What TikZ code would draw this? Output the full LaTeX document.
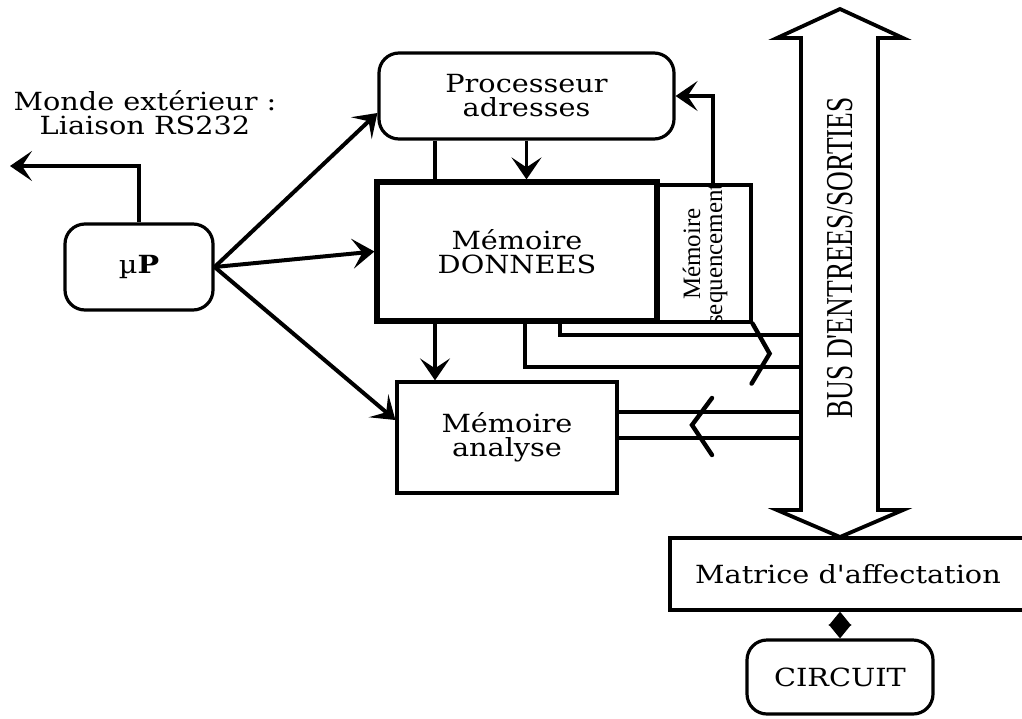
\documentclass[tikz,border=0pt]{standalone}
\usepackage{fontspec}
\usetikzlibrary{arrows.meta}
\newfontfamily\boxfont{DejaVu Serif}[FakeStretch=1.15]
\newfontfamily\busfont{Liberation Serif}[FakeStretch=0.72]
\newfontfamily\seqfont{Liberation Serif}
\tikzset{
  blk/.style={draw, line width=1.6pt, inner sep=0pt, align=center,
    font={\boxfont\fontsize{12.5}{12}\selectfont}},
  rblk/.style={blk, rounded corners=10pt},
  conn/.style={line width=1.6pt, -{Stealth[length=11pt,width=15pt,inset=5pt]}},
  link/.style={line width=1.6pt},
  chev/.style={line width=2.2pt, line cap=round},
}

\begin{document}
\begin{tikzpicture}[x=0.5pt, y=-0.5pt]
  \useasboundingbox (0,0) rectangle (1022,718);
  % blocs
  \node[rblk, minimum width=147.5pt, minimum height=43pt] (proc) at (526.5,96) {Processeur\\adresses};
  \node[blk, line width=2.6pt, minimum width=140pt, minimum height=69.5pt] (donnees) at (517,251.5) {Mémoire\\DONNEES};
  \node[blk, minimum width=47pt, minimum height=68.5pt] (seq) at (704,253.5) {};
  \node[rotate=90, align=center, font={\seqfont\fontsize{12.5}{11}\selectfont}] (seqtxt) at (705,254) {Mémoire\\sequencement};
  \node[blk, minimum width=110pt, minimum height=55.5pt] (analyse) at (507,437.5) {Mémoire\\analyse};
  \node[rblk, minimum width=74pt, minimum height=43pt] (up) at (139,267) {µ\textbf{P}};
  \node[blk, minimum width=178pt, minimum height=36pt] (matrice) at (848,574) {Matrice d'affectation};
  \node[rblk, minimum width=93pt, minimum height=37pt] (circuit) at (840,677) {CIRCUIT};
  \node[align=center, font={\boxfont\fontsize{12.5}{12}\selectfont}] (monde) at (145,113) {Monde extérieur :\\Liaison RS232};
  % bus
  \draw[line width=1.9pt] (840,9) -- (903,38) -- (878,38) -- (878,510) -- (903,510)
    -- (840,537) -- (777,510) -- (801,510) -- (801,38) -- (777,38) -- cycle;
  \node[rotate=90, font={\busfont\fontsize{19}{19}\selectfont}] (bus) at (840,258) {BUS D'ENTREES/SORTIES};
  \coordinate (rs) at (10,166);
  \coordinate (colA) at (435,0);
  \coordinate (colC) at (713,0);
  \coordinate (colD) at (560,0);
  \coordinate (colE) at (525,0);
  \coordinate (b1) at (801,335);
  \coordinate (b2) at (801,367);
  \coordinate (b3) at (801,412);
  \coordinate (b4) at (801,438);
  % liaisons
  \draw[conn] (up.north) |- (rs);
  \draw[conn, line width=2pt] (up.east) -- ([yshift=-8.5pt]proc.west);
  \draw[conn, line width=2pt] (up.east) -- (donnees.west);
  \draw[conn, line width=2pt] (up.east) -- ([yshift=8.75pt]analyse.west);
  \draw[link] (proc.south -| colA) -- (donnees.north -| colA);
  \draw[conn] (proc.south) -- (proc.south |- donnees.north);
  \draw[conn] (donnees.south -| colA) -- (analyse.north -| colA);
  \draw[conn] (seq.north -| colC) |- (proc.east);
  \draw[link] (donnees.south -| colD) |- (b1);
  \draw[link] (donnees.south -| colE) |- (b2);
  \draw[link] (analyse.east |- b3) -- (b3);
  \draw[link] (analyse.east |- b4) -- (b4);
  \draw[chev] (seq.south east) -- ++(17,30) -- ++(-18,30);
  \draw[chev] (712,398) -- (692,425) -- (712,455);
  \draw[line width=1.6pt, {Triangle[length=7pt,width=11pt]}-{Triangle[length=7pt,width=11pt]}]
    (circuit.north |- matrice.south) -- (circuit.north);
\end{tikzpicture}
\end{document}
